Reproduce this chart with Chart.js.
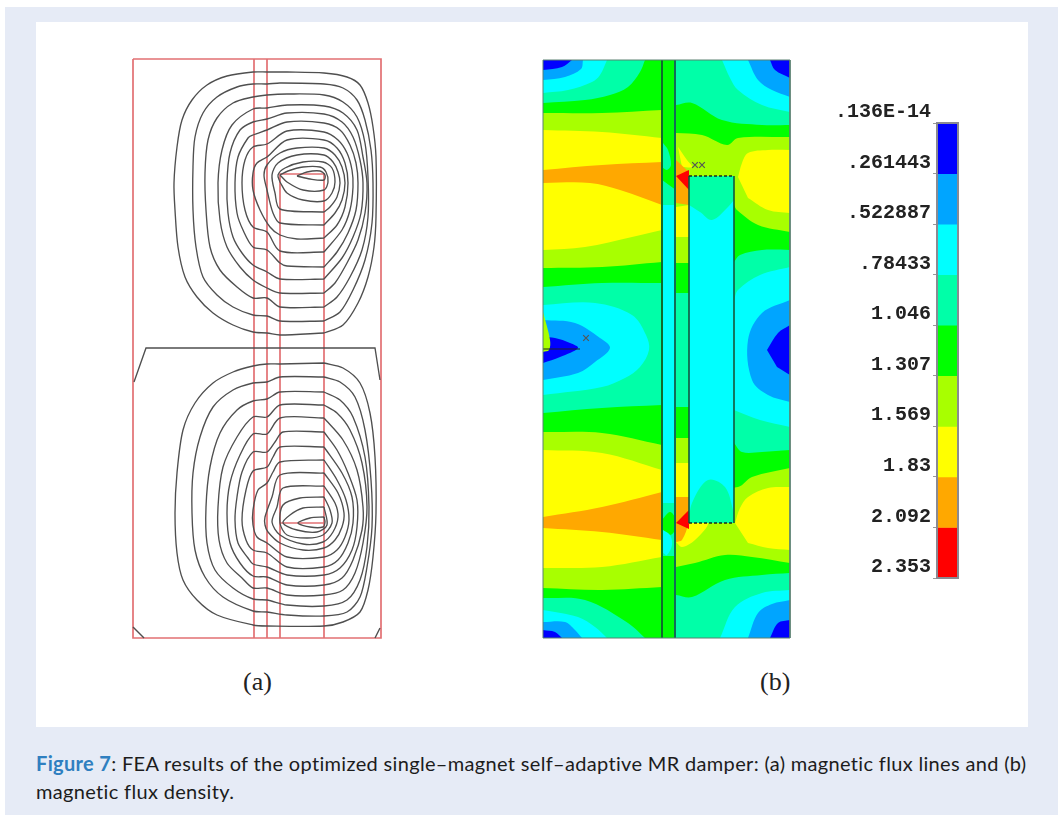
<!DOCTYPE html>
<html>
<head>
<meta charset="utf-8">
<script src="https://cdn.jsdelivr.net/npm/chart.js@4"></script>
<style>
  html, body { margin: 0; padding: 0; background: #fff; }
  body { width: 1058px; height: 816px; position: relative; overflow: hidden; }
  #page { position: absolute; left: 5px; top: 7px; width: 1053px; height: 808px; background: #e6ebf6; }
  #figure { position: absolute; left: 36px; top: 22px; width: 992px; height: 705px; background: #fff; }
  canvas { position: absolute; }
  #fluxChart { left: 131px; top: 57px; filter: blur(0.5px); }
  #densityChart { left: 541px; top: 58px; filter: blur(0.7px); }
  #scaleChart { left: 825px; top: 95px; filter: blur(0.3px); }
  .sub { position: absolute; top: 667px; font: 26px "Liberation Serif", serif; color: #222; }
  #caption { position: absolute; left: 36px; top: 749px; width: 1010px; font: 20px/28px Lato, sans-serif; letter-spacing: 0.33px; color: #1c1c1c; white-space: nowrap; }
  #caption b { color: #2f7fc0; }
</style>
</head>
<body>
<div id="page"></div>
<div id="figure"></div>
<canvas id="fluxChart" width="252" height="583"></canvas>
<canvas id="densityChart" width="251" height="583"></canvas>
<canvas id="scaleChart" width="150" height="505"></canvas>
<div class="sub" style="left:243px">(a)</div>
<div class="sub" style="left:760px">(b)</div>
<div id="caption"><b>Figure 7</b>: FEA results of the optimized single–magnet self–adaptive MR damper: (a) magnetic flux lines and (b)<br>magnetic flux density.</div>

<script>
// Panel (a): flux lines, upper coil half
const fluxUpper = [
  [[324,333],[280,335],[267,333],[253,332],[233,325],[213,313],[197,297],[185,277],[178,247],[175,210],[174,183],[177,147],[182,120],[192,100],[207,85],[227,76],[253,72],[267,72],[287,72],[324,73],[347,77],[360,85],[368,103],[373,127],[376,157],[376,217],[374,247],[368,277],[358,303],[343,325],[324,333]],
  [[324,321],[280,321],[267,316],[253,315],[233,307],[217,295],[203,277],[196,247],[193,210],[193,167],[195,137],[203,113],[217,97],[237,87],[253,84],[267,84],[280,83],[324,84],[343,88],[357,100],[365,120],[371,150],[373,183],[372,223],[365,260],[353,290],[340,312],[324,321]],
  [[324,307],[280,307],[267,298],[253,298],[237,287],[220,270],[210,247],[206,210],[205,173],[208,140],[217,118],[233,103],[253,97],[267,95],[287,94],[324,95],[343,102],[357,117],[365,143],[368,177],[368,217],[362,250],[350,277],[337,297],[324,307]],
  [[324,293],[280,293],[267,288],[253,280],[240,267],[227,247],[220,220],[218,183],[222,150],[232,125],[253,109],[267,108],[287,105],[324,106],[343,113],[357,130],[363,157],[367,183],[365,213],[358,240],[347,263],[335,283],[324,293]],
  [[324,279],[280,279],[267,272],[253,265],[242,253],[233,237],[228,213],[227,183],[230,153],[240,130],[253,122],[267,119],[287,113],[324,114],[342,122],[353,137],[360,160],[363,183],[361,213],[353,237],[342,258],[324,279]],
  [[324,267],[287,266],[280,263],[267,250],[253,247],[243,230],[237,213],[235,183],[238,157],[248,138],[253,135],[267,130],[287,122],[324,123],[340,130],[350,145],[356,163],[358,183],[356,210],[348,233],[337,252],[324,267]],
  [[324,252],[280,251],[267,232],[253,227],[245,210],[242,183],[245,160],[253,147],[267,144],[287,131],[324,132],[338,140],[347,153],[352,170],[353,187],[350,210],[342,230],[324,252]],
  [[324,238],[297,239],[280,235],[270,227],[260,210],[253,190],[253,173],[257,163],[267,157],[287,140],[324,140],[337,148],[345,163],[348,183],[345,207],[337,225],[324,238]],
  [[324,225],[280,223],[273,213],[267,190],[264,175],[267,165],[280,153],[297,148],[324,148],[335,155],[342,167],[345,183],[342,200],[335,213],[324,225]],
  [[324,212],[280,209],[275,193],[272,175],[278,163],[297,155],[324,155],[333,162],[338,172],[340,183],[337,197],[330,207],[324,212]],
  [[280,182],[287,193],[303,200],[324,201],[332,193],[335,182],[332,168],[323,162],[303,162],[285,168],[278,175],[280,182]],
  [[280,175],[287,182],[303,190],[324,190],[328,182],[326,172],[320,167],[303,167],[288,171],[280,175]],
  [[297,176],[310,179],[324,180],[325,175],[320,171],[307,172],[297,176]]
];

// Panel (a): flux lines, lower coil half
const fluxLower = [
  [[324,363],[280,364],[267,364],[253,366],[233,372],[213,383],[195,403],[183,430],[177,473],[175,513],[177,553],[183,580],[197,600],[217,615],[253,625],[267,626],[324,626],[343,622],[360,612],[368,590],[373,557],[376,513],[375,457],[370,413],[360,383],[343,368],[324,363]],
  [[324,377],[280,377],[267,382],[253,383],[233,390],[213,407],[200,437],[193,473],[192,513],[195,550],[205,577],[223,597],[253,611],[267,612],[287,615],[324,616],[347,612],[360,597],[367,567],[372,527],[371,480],[365,430],[355,397],[340,382],[324,377]],
  [[324,392],[280,392],[267,399],[253,401],[237,410],[220,433],[210,467],[206,507],[207,543],[215,570],[233,588],[253,599],[267,600],[287,605],[324,606],[347,600],[360,580],[367,547],[369,507],[365,457],[353,417],[340,400],[324,392]],
  [[324,405],[280,405],[267,417],[253,417],[237,437],[223,467],[218,507],[219,540],[227,563],[242,578],[253,588],[267,588],[287,595],[324,595],[343,590],[355,573],[363,543],[367,507],[362,463],[350,430],[337,413],[324,405]],
  [[324,418],[280,418],[267,434],[253,434],[240,455],[230,483],[227,513],[230,543],[240,563],[253,576],[267,577],[287,585],[324,585],[342,578],[353,560],[362,530],[363,507],[357,470],[343,440],[324,418]],
  [[324,432],[283,432],[275,442],[267,452],[253,452],[242,472],[237,497],[235,520],[238,543],[248,558],[253,564],[267,567],[287,575],[324,575],[340,568],[352,550],[357,527],[357,500],[348,473],[337,450],[324,432]],
  [[324,447],[280,447],[273,457],[267,467],[253,471],[246,490],[242,520],[246,540],[253,550],[267,553],[287,567],[324,567],[338,560],[348,543],[353,523],[352,497],[342,473],[324,447]],
  [[324,460],[280,462],[273,472],[267,483],[258,490],[253,510],[253,525],[257,537],[267,543],[287,557],[324,557],[337,550],[345,537],[349,520],[346,500],[337,480],[324,460]],
  [[324,473],[280,475],[272,497],[265,517],[265,525],[268,532],[280,543],[303,550],[324,548],[335,540],[342,527],[344,513],[338,493],[324,473]],
  [[324,486],[283,488],[277,507],[272,522],[280,535],[303,544],[323,542],[333,532],[338,517],[335,503],[324,486]],
  [[324,497],[300,498],[283,505],[280,523],[287,535],[307,538],[323,535],[332,523],[330,510],[324,497]],
  [[324,507],[303,508],[290,515],[283,523],[297,530],[317,532],[327,525],[324,507]],
  [[324,517],[310,518],[298,523],[310,527],[323,527],[325,522],[324,517]]
];

// Panel (a): damper geometry
const outline = [[133,59],[381,59],[381,638],[133,638],[133,59]];
const tubeLeft = [[254,59],[254,638]];
const tubeRight = [[267,59],[267,638]];
const coreOutline = [[280,638],[280,174],[324,174],[324,638]];
const coreBottom = [[280,523],[324,523]];
const midBoundary = [[134,382],[146,348],[375,348],[380,380]];
const cornerLeft = [[133,627],[144,638]];
const cornerRight = [[380,628],[375,638]];

// Panel (b): flux density regions, painted in the listed order
const panelRect = [[543,60],[790,60],[790,638],[543,638]];
const leftTopCyan = [[543,60],[607,60],[600,75],[592,82],[568,90],[543,93]];
const leftTopAzure = [[543,60],[583,60],[581,69],[565,77],[543,80]];
const leftTopBlue = [[543,60],[572,60],[562,67],[543,70]];
const leftUpGreen = [[543,103],[585,100],[610,95],[628,87],[640,72],[645,60],[662,60],[662,283],[602,283],[543,287]];
const leftUpLime = [[543,113],[602,113],[662,110],[662,262],[602,267],[543,268]];
const leftUpYellow = [[543,130],[602,132],[662,138],[662,230],[632,237],[585,247],[543,250]];
const leftUpOrange = [[543,170],[602,165],[662,162],[662,205],[620,190],[590,183],[543,183]];
const leftMidCyan = [[543,305],[595,303],[632,315],[646,335],[649,350],[640,367],[625,378],[602,387],[543,395]];
const leftMidAzure = [[543,320],[575,323],[600,338],[610,348],[595,362],[578,373],[543,380]];
const leftMidBlue = [[543,337],[555,338],[570,343],[578,348],[560,357],[543,363]];
const leftMidLime = [[543,312],[550,340],[549,350],[543,352]];
const leftLowGreen = [[543,413],[602,408],[662,405],[662,638],[645,638],[628,623],[585,600],[543,598]];
const leftLowLime = [[543,432],[602,433],[662,445],[662,587],[602,590],[543,588]];
const leftLowYellow = [[543,450],[602,453],[662,470],[662,557],[602,567],[543,568]];
const leftLowOrange = [[543,517],[602,507],[662,492],[662,540],[602,532],[543,528]];
const leftBotCyan = [[543,610],[578,617],[595,627],[607,638],[543,638]];
const leftBotAzure = [[543,622],[565,622],[575,630],[582,638],[543,638]];
const leftBotBlue = [[543,630],[555,632],[562,638],[543,638]];
const gapCyan = [[662,205],[676,205],[676,503],[662,503]];
const gapTopGreen = [[662,60],[676,60],[676,190],[662,180]];
const gapTopBlob = [[663,143],[668,150],[671,165],[667,170],[663,168]];
const gapLowBase = [[662,503],[676,503],[676,560],[662,560]];
const gapLowGreen = [[662,520],[670,512],[676,518],[676,530],[670,535],[662,530]];
const gapLowCyan = [[663,530],[670,535],[672,545],[667,555],[663,553]];
const gapBotGreen = [[662,556],[676,556],[676,638],[662,638]];
const rightTopCyan = [[722,60],[730,78],[738,90],[762,105],[790,112],[790,60]];
const rightTopAzure = [[748,60],[758,80],[772,90],[790,97],[790,60]];
const rightTopBlue = [[770,60],[775,70],[790,78],[790,60]];
const rightUpGreen = [[676,105],[692,103],[722,120],[762,125],[790,125],[790,250],[762,250],[740,255],[734,262],[734,300],[689,300],[689,293],[676,293]];
const rightUpLime = [[676,133],[702,135],[727,145],[738,138],[790,137],[790,232],[758,225],[737,210],[734,205],[689,205],[689,263],[676,263]];
const rightUpYellow = [[738,177],[742,163],[748,153],[768,150],[790,150],[790,213],[768,210],[748,198]];
const gapUpYellow = [[678,147],[687,160],[692,167],[682,167]];
const gapUpOrange = [[676,160],[689,172],[689,205],[676,203]];
const gapUpRed = [[676,176],[689,170],[689,190]];
const gapUpYellowLow = [[676,207],[689,205],[689,237],[676,237]];
const rightMidCyan = [[790,267],[760,275],[738,290],[734,300],[734,410],[760,420],[790,427]];
const rightMidAzure = [[790,300],[762,313],[748,340],[752,380],[768,395],[790,402]];
const rightMidBlue = [[767,350],[778,333],[790,325],[790,375],[777,367]];
const rightLowGreen = [[676,407],[689,407],[689,440],[734,443],[742,452],[762,452],[790,450],[790,573],[762,575],[725,580],[692,597],[676,595]];
const rightLowLime = [[676,438],[689,438],[689,490],[738,487],[752,477],[790,468],[790,563],[752,557],[725,555],[695,563],[676,567]];
const rightLowYellow = [[735,523],[740,508],[748,497],[768,488],[790,487],[790,550],[768,548],[748,543]];
const gapLowYellow = [[676,463],[689,463],[689,523],[708,523],[695,540],[682,547],[676,542]];
const gapLowOrange = [[676,497],[689,497],[689,523],[682,540],[676,542]];
const gapLowRed = [[676,523],[689,510],[689,529]];
const rightBotCyan = [[720,638],[735,607],[762,593],[790,590],[790,638]];
const rightBotAzure = [[748,638],[758,613],[772,604],[790,600],[790,638]];
const rightBotBlue = [[770,638],[778,623],[790,620],[790,638]];
const coreFill = [[689,176],[734,176],[734,523],[689,523]];
const coreTopBlob = [[689,176],[734,176],[734,200],[728,207],[712,220],[700,212],[689,205]];
const coreLowBlob = [[689,523],[692,503],[708,480],[725,487],[734,513],[734,523]];

// Panel (b): drawn edges and small marks
const wallLeft = [[662,60],[662,638]];
const wallRight = [[675,60],[675,638]];
const coreEdge = [[689,176],[689,523]];
const coreEdgeRight = [[734,176],[734,523]];
const coreEdgeTop = [[689,176],[734,176]];
const coreEdgeLow = [[689,523],[734,523]];
const markerDots = [[586,338],[695,165],[702,165]];
const symbolDash = [[543,349],[580,349]];

// Colour scale
const scaleColors = ["#0000ff","#00a5ff","#00ffff","#00ffa8","#00ff00","#a8ff00","#ffff00","#ffa800","#ff0000"];
const scaleLevels = [0,0.261443,0.522887,0.78433,1.046,1.307,1.569,1.83,2.092,2.353];
const scaleLabels = [".136E-14",".261443",".522887",".78433","1.046","1.307","1.569","1.83","2.092","2.353"];

const [blue, azure, cyan, teal, green, lime, yellow, orange, red] = scaleColors;

const paintOrder = [
  [panelRect, teal], [leftTopCyan, cyan], [leftTopAzure, azure], [leftTopBlue, blue],
  [leftUpGreen, green], [leftUpLime, lime], [leftUpYellow, yellow], [leftUpOrange, orange],
  [leftMidCyan, cyan], [leftMidAzure, azure], [leftMidBlue, blue], [leftMidLime, lime],
  [leftLowGreen, green], [leftLowLime, lime], [leftLowYellow, yellow], [leftLowOrange, orange],
  [leftBotCyan, cyan], [leftBotAzure, azure], [leftBotBlue, blue],
  [gapCyan, cyan], [gapTopGreen, green], [gapTopBlob, teal], [gapLowBase, teal],
  [gapLowGreen, green], [gapLowCyan, cyan], [gapBotGreen, green],
  [rightTopCyan, cyan], [rightTopAzure, azure], [rightTopBlue, blue],
  [rightUpGreen, green], [rightUpLime, lime], [rightUpYellow, yellow],
  [gapUpYellow, yellow], [gapUpOrange, orange], [gapUpYellowLow, yellow], [gapUpRed, red],
  [rightMidCyan, cyan], [rightMidAzure, azure], [rightMidBlue, blue],
  [rightLowGreen, green], [rightLowLime, lime], [rightLowYellow, yellow],
  [gapLowYellow, yellow], [gapLowOrange, orange], [gapLowRed, red],
  [rightBotCyan, cyan], [rightBotAzure, azure], [rightBotBlue, blue],
  [coreFill, cyan], [coreTopBlob, teal], [coreLowBlob, teal]
];

function lineSet(points, color, width, tension = 0) {
  return { data: points, showLine: true, fill: false, borderColor: color, borderWidth: width, pointRadius: 0, tension };
}

// chart.js paints high order first, so the list order becomes the paint order
function inPaintOrder(sets) {
  return sets.map((s, i) => ({ ...s, order: sets.length - i }));
}

function pixelScales(xMin, xMax, yMin, yMax) {
  return {
    x: { type: "linear", min: xMin, max: xMax, display: false },
    y: { type: "linear", min: yMin, max: yMax, reverse: true, display: false }
  };
}

// a doubled point keeps its corner sharp under spline tension, so the walls stay straight
const wallsX = [543, 662, 676, 689, 734, 790];
const wallsY = [60, 638];
function sharpenWalls(points) {
  return points.flatMap(p => (wallsX.includes(p[0]) || wallsY.includes(p[1]) ? [p, p] : [p]));
}

const baseOptions = {
  responsive: false,
  animation: false,
  layout: { padding: 0, autoPadding: false },
  plugins: { legend: { display: false }, tooltip: { enabled: false } }
};

// Flux lines
const fluxSets = [
  outline, tubeLeft, tubeRight, coreOutline, coreBottom
].map(p => lineSet(p, "#e27073", 1.7));

new Chart(document.getElementById("fluxChart"), {
  type: "scatter",
  data: {
    datasets: inPaintOrder([
      ...fluxSets,
      ...[...fluxUpper, ...fluxLower].map(p => lineSet(p, "#4f4f4f", 1.35, 0.3)),
      ...[midBoundary, cornerLeft, cornerRight].map(p => lineSet(p, "#4f4f4f", 1.35))
    ])
  },
  options: { ...baseOptions, scales: pixelScales(131, 383, 57, 640) }
});

// Flux density
const regionSets = paintOrder.map(([points, color]) => ({
  data: sharpenWalls(points), showLine: true, fill: "shape", backgroundColor: color, borderWidth: 0, pointRadius: 0, tension: 0.35
}));

new Chart(document.getElementById("densityChart"), {
  type: "scatter",
  data: {
    datasets: inPaintOrder([
      ...regionSets,
      lineSet(wallLeft, "#0f6a2c", 2),
      lineSet(wallRight, "#136a58", 2),
      lineSet(coreEdge, "#14583c", 1.6),
      lineSet(coreEdgeRight, "#14583c", 1.6),
      { ...lineSet(coreEdgeTop, "#1a2a20", 1.5), borderDash: [3, 2] },
      { ...lineSet(coreEdgeLow, "#1a2a20", 1.5), borderDash: [3, 2] },
      lineSet(symbolDash, "#222222", 1.2),
      lineSet(panelRect.concat([panelRect[0]]), "#5a8070", 1),
      { data: markerDots, showLine: false, pointStyle: "crossRot", pointRadius: 4, borderWidth: 1.2, borderColor: "#555555" }
    ])
  },
  options: { ...baseOptions, scales: pixelScales(541, 792, 58, 641) }
});

// Colour scale bar
const barFrame = {
  id: "barFrame",
  afterDatasetsDraw(chart) {
    const { ctx, chartArea: a } = chart;
    ctx.save();
    ctx.strokeStyle = "#8a8a92";
    ctx.lineWidth = 2;
    ctx.strokeRect(a.left, a.top, a.width, a.height);
    ctx.restore();
  }
};

new Chart(document.getElementById("scaleChart"), {
  type: "bar",
  data: {
    labels: [""],
    datasets: scaleColors.map((color, i) => ({
      data: [[scaleLevels[i], scaleLevels[i + 1]]],
      backgroundColor: color,
      barPercentage: 1,
      categoryPercentage: 1,
      grouped: false
    }))
  },
  options: {
    ...baseOptions,
    layout: { padding: { top: 28, bottom: 22, right: 17 } },
    scales: {
      x: { display: false },
      y: {
        min: 0,
        max: 2.353,
        reverse: true,
        afterFit: scale => { scale.width = 112; },
        afterBuildTicks: scale => { scale.ticks = scaleLevels.map(value => ({ value })); },
        grid: { drawOnChartArea: false, tickLength: 4, color: "#999999" },
        border: { display: false },
        ticks: {
          autoSkip: false,
          padding: 2,
          labelOffset: -11,
          color: "#222222",
          font: { family: "Liberation Mono", size: 20, weight: "bold" },
          callback: (value, i) => scaleLabels[i]
        }
      }
    }
  },
  plugins: [barFrame]
});
</script>
</body>
</html>
